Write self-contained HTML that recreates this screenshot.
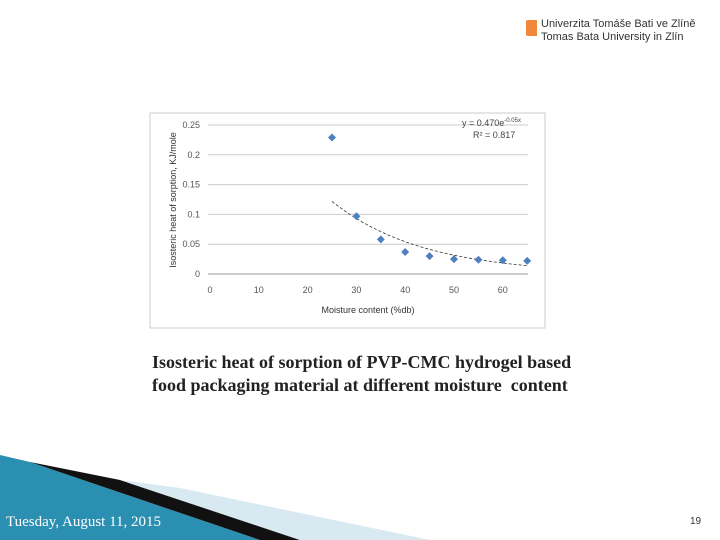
<!DOCTYPE html>
<html><head><meta charset="utf-8">
<style>
body{margin:0;width:720px;height:540px;background:#fff;overflow:hidden;position:relative;font-family:"Liberation Sans",sans-serif}
.cap{position:absolute;left:152px;top:351px;font-family:"Liberation Serif",serif;font-weight:bold;font-size:18px;line-height:23px;color:#222;white-space:nowrap}
</style></head><body>
<div style="position:absolute;left:526px;top:18px;">
<div style="position:absolute;left:0;top:2px;width:11px;height:16px;background:#f0873a;border-radius:2px 0 0 2px"></div>
<div style="position:absolute;left:15px;top:0;font-size:11px;line-height:13px;color:#333;white-space:nowrap">Univerzita Tomáše Bati ve Zlíně<br>Tomas Bata University in Zlín</div>
</div>
<svg id="chart" style="position:absolute;left:0;top:0" width="720" height="540">
<rect x="150" y="113" width="395" height="215" fill="#fff" stroke="#ccc"/>
<g id="grid"></g><g id="marks"></g>
<text x="462" y="126" font-size="9" fill="#444">y = 0.470e<tspan dy="-4" font-size="6">-0.05x</tspan></text>
<text x="473" y="138" font-size="9" fill="#444">R² = 0.817</text>
<text x="368" y="313" font-size="9" text-anchor="middle" fill="#333">Moisture content (%db)</text>
<text transform="translate(176,200) rotate(-90)" font-size="9" text-anchor="middle" fill="#333">Isosteric heat of sorption, KJ/mole</text>
<polygon points="0,455 30,462 260,540 0,540" fill="#2a8fb0"/>
<polygon points="30,462 120,480 300,540 260,540" fill="#111"/>
<polygon points="120,480 180,488 430,540 300,540" fill="#d8e9f1"/>
</svg>
<div class="cap">Isosteric heat of sorption of PVP-CMC hydrogel based<br>food packaging material at different moisture&nbsp; content</div>
<div style="position:absolute;left:6px;top:514px;font-family:'Liberation Serif',serif;font-size:15px;color:#fff">Tuesday, August 11, 2015</div>
<div style="position:absolute;left:690px;top:516px;font-size:10px;color:#333">19</div>
<script>
const xs=[25,30,35,40,45,50,55,60,65];
const ys=[0.229,0.097,0.058,0.037,0.030,0.025,0.024,0.023,0.022];
const xTicks=[0,10,20,30,40,50,60];
const yTicks=[0,0.05,0.1,0.15,0.2,0.25];
const trendA=0.470, trendB=-0.054;
const NS="http://www.w3.org/2000/svg";
const X=v=>210+v*4.88, Y=v=>274-v*596;
const g=document.getElementById('grid'), m=document.getElementById('marks');
function el(t,a,p){const e=document.createElementNS(NS,t);for(const k in a)e.setAttribute(k,a[k]);p.appendChild(e);return e;}
yTicks.forEach(t=>{
 const l=el('line',{x1:208,x2:528,y1:Y(t),y2:Y(t),stroke:t===0?'#999':'#ccc','stroke-width':1},g);
 
 
 const tx=el('text',{x:200,y:Y(t)+3,'font-size':9,'text-anchor':'end',fill:'#555'},g);
 tx.textContent=String(t);
 
 
});
xTicks.forEach(t=>{
 const tx=el('text',{x:X(t),y:Y(0)+19,'font-size':9,'text-anchor':'middle',fill:'#555'},g);
 tx.textContent=String(t);
 
 
});
let d='';
for(let v=xs[0];v<=xs[xs.length-1];v+=0.5){d+=(d?'L':'M')+X(v).toFixed(1)+','+Y(trendA*Math.exp(trendB*v)).toFixed(1);}
const tl=el('path',{d:d,fill:'none',stroke:'#333','stroke-width':0.8,'stroke-dasharray':'3,2'},m);


xs.forEach((x,i)=>{
 const cx=X(x),cy=Y(ys[i]);
 const p=el('polygon',{points:`${cx},${cy-4} ${cx+4},${cy} ${cx},${cy+4} ${cx-4},${cy}`,fill:'#4f7fbf'},m);
 
 
});
</script>
</body></html>
